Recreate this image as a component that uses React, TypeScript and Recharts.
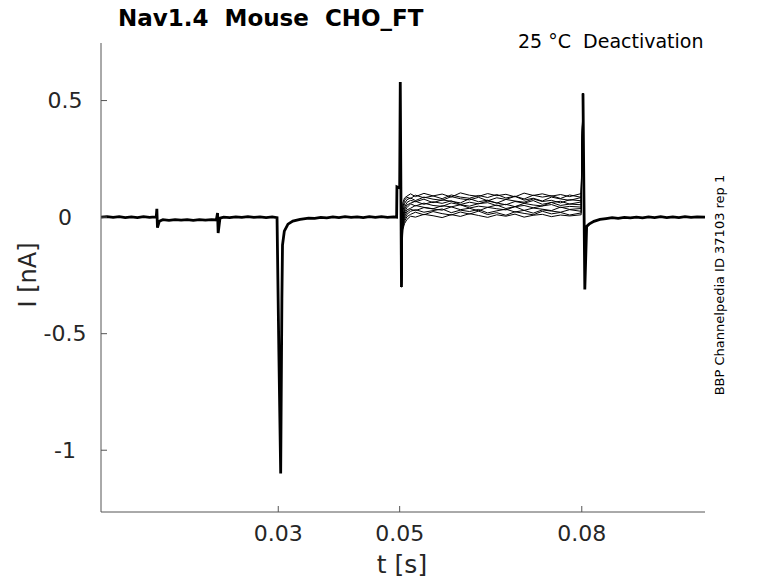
import React from 'react'
import { Line, LineChart, XAxis, YAxis } from 'recharts'

// holding / test pulse recording, shared part before the test pulse (s, nA)
const preTimes = [
  0.0008, 0.0018, 0.0028, 0.0038, 0.0048, 0.0058, 0.0068, 0.0078, 0.0088, 0.0097,
  0.0099, 0.01, 0.0101, 0.0104, 0.011, 0.012, 0.013, 0.014, 0.015, 0.016,
  0.017, 0.018, 0.019, 0.0198, 0.02, 0.0201, 0.0204, 0.021, 0.022, 0.023,
  0.024, 0.025, 0.026, 0.027, 0.028, 0.029, 0.0298, 0.0301, 0.0304, 0.0306,
  0.0307, 0.031, 0.0316, 0.0324, 0.0336, 0.035, 0.036, 0.037, 0.038, 0.039,
  0.04, 0.041, 0.042, 0.043, 0.044, 0.045, 0.046, 0.047, 0.048, 0.049,
  0.0495, 0.04955, 0.05, 0.0501, 0.0503,
]
const preCurrent = [
  0.0, 0.002, -0.001, 0.002, -0.002, 0.001, -0.002, 0.002, -0.001, 0.001,
  0.0, 0.036, -0.045, -0.018, -0.011, -0.014, -0.011, -0.013, -0.011, -0.014,
  -0.011, -0.013, -0.011, -0.012, 0.018, -0.068, -0.004, 0.0, -0.002, 0.001,
  -0.001, 0.002, -0.001, 0.001, -0.002, 0.001, -0.002, -0.58, -1.1, -0.35,
  -0.12, -0.06, -0.03, -0.017, -0.01, -0.004, -0.005, -0.001, -0.003, 0.001,
  -0.002, 0.002, -0.001, 0.001, -0.002, 0.002, -0.001, 0.002, -0.001, 0.001,
  0.0, 0.13, 0.125, 0.58, -0.3,
]

// test pulse, one row per sweep
const pulseTimes = [
  0.0505, 0.0508, 0.0512, 0.0518, 0.0526, 0.054, 0.0555, 0.057, 0.0585, 0.06,
  0.0615, 0.063, 0.0645, 0.066, 0.0675, 0.069, 0.0705, 0.072, 0.0735, 0.075,
  0.0765, 0.078, 0.0799,
]
const sweep1 = [0.06, 0.082, 0.09, 0.1, 0.088, 0.102, 0.091, 0.099, 0.086, 0.104, 0.094, 0.089, 0.101, 0.092, 0.098, 0.087, 0.103, 0.093, 0.1, 0.09, 0.097, 0.088, 0.101]
const sweep2 = [0.04, 0.072, 0.085, 0.08, 0.094, 0.083, 0.091, 0.079, 0.095, 0.086, 0.081, 0.093, 0.084, 0.097, 0.082, 0.09, 0.078, 0.094, 0.086, 0.092, 0.08, 0.095, 0.085]
const sweep3 = [0.02, 0.058, 0.075, 0.082, 0.071, 0.086, 0.077, 0.072, 0.088, 0.079, 0.074, 0.085, 0.07, 0.083, 0.076, 0.089, 0.073, 0.081, 0.069, 0.086, 0.078, 0.072, 0.084]
const sweep4 = [0.0, 0.042, 0.063, 0.072, 0.066, 0.077, 0.062, 0.074, 0.068, 0.061, 0.079, 0.066, 0.073, 0.06, 0.076, 0.069, 0.064, 0.078, 0.067, 0.072, 0.061, 0.075, 0.07]
const sweep5 = [-0.01, 0.032, 0.052, 0.06, 0.068, 0.055, 0.066, 0.059, 0.07, 0.054, 0.064, 0.057, 0.069, 0.061, 0.053, 0.067, 0.06, 0.071, 0.055, 0.063, 0.068, 0.056, 0.065]
const sweep6 = [-0.02, 0.022, 0.041, 0.057, 0.048, 0.06, 0.05, 0.046, 0.061, 0.053, 0.047, 0.058, 0.062, 0.049, 0.055, 0.045, 0.059, 0.052, 0.048, 0.063, 0.05, 0.056, 0.053]
const sweep7 = [-0.03, 0.012, 0.031, 0.038, 0.05, 0.042, 0.036, 0.049, 0.044, 0.053, 0.039, 0.047, 0.042, 0.052, 0.037, 0.045, 0.05, 0.04, 0.048, 0.054, 0.041, 0.046, 0.043]
const sweep8 = [-0.035, 0.002, 0.022, 0.033, 0.028, 0.041, 0.035, 0.03, 0.044, 0.032, 0.038, 0.027, 0.042, 0.036, 0.031, 0.045, 0.029, 0.039, 0.034, 0.028, 0.043, 0.033, 0.037]
const sweep9 = [-0.04, -0.008, 0.012, 0.025, 0.032, 0.021, 0.028, 0.035, 0.019, 0.03, 0.024, 0.033, 0.018, 0.027, 0.034, 0.022, 0.029, 0.017, 0.031, 0.026, 0.021, 0.032, 0.025]
const sweep10 = [-0.05, -0.018, 0.002, 0.012, 0.021, 0.01, 0.024, 0.015, 0.009, 0.022, 0.013, 0.026, 0.011, 0.019, 0.008, 0.023, 0.016, 0.01, 0.025, 0.014, 0.02, 0.009, 0.018]
const sweep11 = [-0.055, -0.028, -0.01, 0.004, 0.0, 0.012, 0.006, -0.002, 0.011, 0.003, 0.015, 0.007, -0.001, 0.01, 0.004, 0.013, 0.0, 0.008, 0.012, 0.002, 0.009, 0.005, 0.01]
const sweeps = [sweep1, sweep2, sweep3, sweep4, sweep5, sweep6, sweep7, sweep8, sweep9, sweep10, sweep11]

// shared tail after the test pulse
const postTimes = [
  0.0802, 0.0805, 0.0808, 0.0812, 0.082, 0.083, 0.084, 0.085, 0.086, 0.087,
  0.088, 0.089, 0.09, 0.091, 0.092, 0.093, 0.094, 0.095, 0.096, 0.097,
  0.098, 0.099, 0.1003,
]
const postCurrent = [
  0.53, -0.31, -0.04, -0.03, -0.018, -0.01, -0.006, -0.002, -0.005, -0.001,
  -0.003, 0.0, -0.003, 0.001, -0.002, 0.002, -0.002, 0.001, -0.002, 0.002,
  -0.001, 0.001, 0.0,
]

const xTicks = [0.03, 0.05, 0.08]
const yTicks = [-1, -0.5, 0, 0.5]

const FONT = 'DejaVu Sans, sans-serif'
const TEXT = '#262626'
const AXIS = '#555555'

const toPoints = (ts: number[], vs: number[]) => ts.map((t, i) => ({ t, v: vs[i] }))

const before = toPoints(preTimes, preCurrent)
const after = toPoints(postTimes, postCurrent)
const sweepData = sweeps.map((s) => [
  before[before.length - 1],
  ...toPoints(pulseTimes, s),
  after[0],
])

export default function App() {
  return (
    <div style={{ position: 'absolute', left: 0, top: 0, width: 778, height: 583, background: '#fff' }}>
      <LineChart width={778} height={583} margin={{ top: 43, right: 73, bottom: 0, left: 0 }}>
        <XAxis
          type='number'
          dataKey='t'
          domain={[0.0008, 0.1003]}
          ticks={xTicks}
          allowDataOverflow
          height={71}
          stroke={AXIS}
          tickSize={-6}
          tickMargin={19}
          tick={{ fill: TEXT, fontSize: 22, fontFamily: FONT }}
        />
        <YAxis
          type='number'
          domain={[-1.265, 0.747]}
          ticks={yTicks}
          allowDataOverflow
          width={101}
          stroke={AXIS}
          tickSize={-6}
          tickMargin={42}
          tick={{ fill: TEXT, fontSize: 22, fontFamily: FONT, textAnchor: 'middle' }}
        />
        <Line data={before} dataKey='v' stroke='#000' strokeWidth={2.8} dot={false} isAnimationActive={false} />
        {sweepData.map((d, i) => (
          <Line key={i} data={d} dataKey='v' stroke='#000' strokeWidth={1} dot={false} isAnimationActive={false} />
        ))}
        <Line data={after} dataKey='v' stroke='#000' strokeWidth={2.8} dot={false} isAnimationActive={false} />
      </LineChart>
      <svg width={778} height={583} style={{ position: 'absolute', left: 0, top: 0, pointerEvents: 'none' }}>
        <text x={118} y={26} fontFamily={FONT} fontSize={23} fontWeight='bold' fill='#000' style={{ whiteSpace: 'pre' }}>
          Nav1.4  Mouse  CHO_FT
        </text>
        <text x={518} y={48} fontFamily={FONT} fontSize={19} fill='#000' style={{ whiteSpace: 'pre' }}>
          25 °C  Deactivation
        </text>
        <text x={724} y={285} fontFamily={FONT} fontSize={13} fill='#000' textAnchor='middle' transform='rotate(-90 724 285)'>
          BBP Channelpedia ID 37103 rep 1
        </text>
        <text x={36} y={275} fontFamily={FONT} fontSize={24} fill={TEXT} textAnchor='middle' transform='rotate(-90 36 275)'>
          I [nA]
        </text>
        <text x={402} y={573} fontFamily={FONT} fontSize={25} fill={TEXT} textAnchor='middle'>
          t [s]
        </text>
      </svg>
    </div>
  )
}
